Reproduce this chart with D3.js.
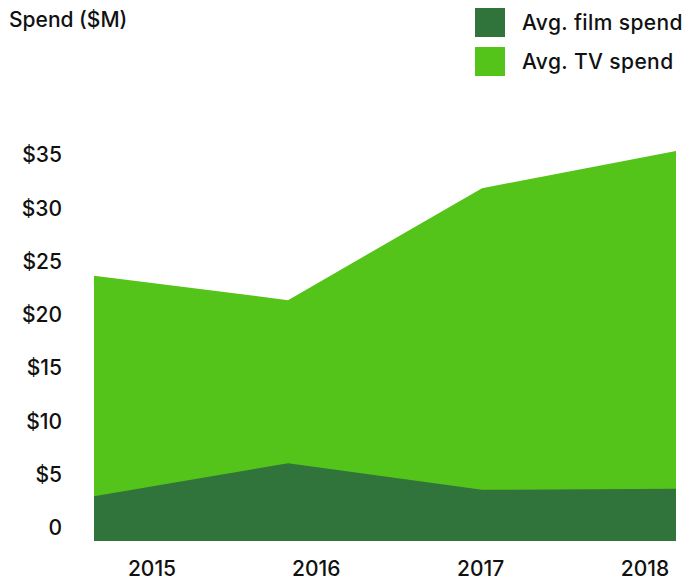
<!DOCTYPE html>
<html>
<head>
<meta charset="utf-8">
<script src="https://cdn.jsdelivr.net/npm/d3@7"></script>
<style>
  body { margin: 0; background: #fff; }
  text { font-family: Inter, "Liberation Sans", sans-serif; fill: #111; font-weight: 500; }
</style>
</head>
<body>
<svg id="chart" width="692" height="580"></svg>
<script>
// data
var years = ["2015", "2016", "2017", "2018"];
var filmSpend = [4.2, 7.3, 4.8, 4.9];
var tvSpend = [24.9, 22.6, 33.1, 36.6];
var yTicks = [0, 5, 10, 15, 20, 25, 30, 35];
var seriesNames = ["Avg. film spend", "Avg. TV spend"];
var seriesColors = ["#30733b", "#55c41a"];

var svg = d3.select("#chart");

var x = d3.scalePoint().domain(years).range([94, 676]);
var xLabel = d3.scalePoint().domain(years).range([152, 645]);
var y = d3.scaleLinear().domain([0, 35]).range([541, 168]);

// tv first (behind), film on top
var area = d3.area()
  .x(function(d, i) { return x(years[i]); })
  .y0(y(0)).y1(function(d) { return y(d); });

svg.append("path").datum(tvSpend)
  .attr("d", area).attr("fill", seriesColors[1]);
svg.append("path").datum(filmSpend)
  .attr("d", area).attr("fill", seriesColors[0]);

// y labels
svg.append("g").selectAll("text").data(yTicks).enter()
  .append("text")
  .attr("x", 62).attr("y", function(d) { return y(d) - 13; })
  .attr("dy", "0.35em").attr("text-anchor", "end")
  .attr("font-size", "21px")
  .text(function(d) { return d === 0 ? "0" : "$" + d; });

// x labels
svg.append("g").selectAll("text").data(years).enter()
  .append("text")
  .attr("x", function(d) { return xLabel(d); }).attr("y", 576)
  .attr("text-anchor", "middle").attr("font-size", "21px")
  .text(function(d) { return d; });

svg.append("text").text("Spend ($M)")
  .attr("x", 9).attr("y", 27).attr("font-size", "21px");

// legend
var leg = svg.append("g").selectAll("g").data(seriesNames).enter()
  .append("g")
  .attr("transform", function(d, i) { return "translate(475," + (8 + i * 39) + ")"; });
leg.append("rect").attr("width", 30).attr("height", 29)
  .attr("fill", function(d, i) { return seriesColors[i]; });
leg.append("text").attr("x", 47).attr("y", 22)
  .attr("font-size", "21px").attr("letter-spacing", "0.4px")
  .text(function(d) { return d; });
</script>
</body>
</html>
